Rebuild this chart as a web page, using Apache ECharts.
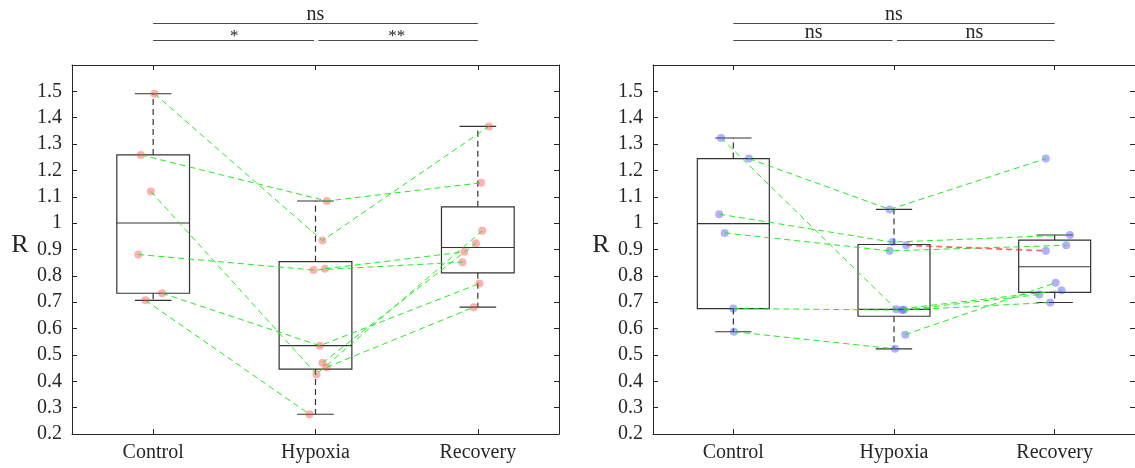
<!DOCTYPE html>
<html>
<head>
<meta charset="utf-8">
<script src="https://cdn.jsdelivr.net/npm/echarts@6/dist/echarts.min.js"></script>
<style>
  html, body { margin: 0; padding: 0; background: #fff; }
  #chart { width: 1135px; height: 468px; }
</style>
</head>
<body>
<div id="chart"></div>
<script>
// ---- data -------------------------------------------------------------
const categories = ['Control', 'Hypoxia', 'Recovery'];

// Left panel: one entry per subject, null where a phase was not measured
const leftControl  = [1.491, 1.259, 1.120, 0.881, 0.734, 0.707, null, null, null];
const leftHypoxia  = [0.934, 1.084, 0.427, 0.822, 0.535, 0.275, 0.827, 0.470, 0.453];
const leftRecovery = [1.367, 1.153, 0.971, 0.852, 0.771, null, 0.891, 0.924, 0.681];

// Right panel
const rightControl  = [1.323, 1.245, 1.034, 0.963, 0.676, 0.588, null, null, null];
const rightHypoxia  = [0.673, 1.052, 0.928, 0.895, 0.670, 0.523, 0.916, 0.577, 0.671];
const rightRecovery = [0.745, 1.245, 0.955, 0.916, 0.699, null, 0.895, 0.774, 0.729];

// Horizontal scatter of each subject's dot around its category (category units)
const leftJitterControl  = [0.008, -0.076, -0.014, -0.092, 0.055, -0.047, 0, 0, 0];
const leftJitterHypoxia  = [0.043, 0.070, 0.006, -0.012, 0.027, -0.037, 0.058, 0.043, 0.068];
const leftJitterRecovery = [0.068, 0.020, 0.027, -0.095, 0.010, 0, -0.083, -0.012, -0.025];
const rightJitterControl  = [-0.076, 0.097, -0.088, -0.054, 0.000, 0.004, 0, 0, 0];
const rightJitterHypoxia  = [0.014, -0.027, -0.010, -0.027, 0.050, 0.006, 0.076, 0.070, 0.062];
const rightJitterRecovery = [0.043, -0.055, 0.095, 0.072, -0.028, 0, -0.055, 0.006, -0.096];

// Significance labels: [Control vs Recovery, Control vs Hypoxia, Hypoxia vs Recovery]
const leftSignificance  = ['ns', '*', '**'];
const rightSignificance = ['ns', 'ns', 'ns'];

// Subject whose Hypoxia -> Recovery trace is drawn in red (right panel)
const rightRedSubject = 6;

// ---- helpers ----------------------------------------------------------
const FONT = "'Liberation Serif', 'DejaVu Serif', serif";
const AXIS_COLOR = '#262626';

// MATLAB-style percentile (linear interpolation on (i-0.5)/n)
function prctile(sorted, p) {
  const n = sorted.length;
  const pos = n * p / 100 + 0.5;
  if (pos <= 1) return sorted[0];
  if (pos >= n) return sorted[n - 1];
  const i = Math.floor(pos), f = pos - i;
  return sorted[i - 1] + f * (sorted[i] - sorted[i - 1]);
}

function boxStats(values, x) {
  const s = values.filter(v => v != null).sort((a, b) => a - b);
  const q1 = prctile(s, 25), med = prctile(s, 50), q3 = prctile(s, 75);
  const iqr = q3 - q1;
  const lo = s.find(v => v >= q1 - 1.5 * iqr);
  const hi = [...s].reverse().find(v => v <= q3 + 1.5 * iqr);
  return [x, lo, q1, med, q3, hi];
}

function renderBox(params, api) {
  const x = api.value(0);
  const lo = api.value(1), q1 = api.value(2), med = api.value(3),
        q3 = api.value(4), hi = api.value(5);
  const hw = 0.224, cw = 0.113;
  const c = (xx, yy) => api.coord([xx, yy]);
  const tl = c(x - hw, q3), br = c(x + hw, q1);
  const solid = { stroke: '#333', lineWidth: 1.2, fill: null };
  const dashed = { stroke: '#333', lineWidth: 1.2, lineDash: [6, 4], fill: null };
  const seg = (a, b, style) => ({
    type: 'line',
    shape: { x1: a[0], y1: a[1], x2: b[0], y2: b[1] },
    style: style
  });
  return {
    type: 'group',
    children: [
      seg(c(x, q3), c(x, hi), dashed),
      seg(c(x, q1), c(x, lo), dashed),
      seg(c(x - cw, hi), c(x + cw, hi), solid),
      seg(c(x - cw, lo), c(x + cw, lo), solid),
      { type: 'rect', shape: { x: tl[0], y: tl[1], width: br[0] - tl[0], height: br[1] - tl[1] },
        style: { stroke: '#333', lineWidth: 1.2, fill: 'none' } },
      seg(c(x - hw, med), c(x + hw, med), solid)
    ]
  };
}

function panelSeries(g, groups, jitters, dotColor, redSubject) {
  const series = [];
  // boxes
  series.push({
    type: 'custom',
    xAxisIndex: 2 * g, yAxisIndex: 2 * g,
    renderItem: renderBox,
    encode: { x: 0, y: [1, 2, 3, 4, 5] },
    data: groups.map((vals, i) => boxStats(vals, i + 1)),
    z: 2, silent: true
  });
  // subject dots
  const dots = [];
  groups.forEach((vals, gi) => {
    vals.forEach((v, si) => {
      if (v != null) dots.push([gi + 1 + jitters[gi][si], v]);
    });
  });
  series.push({
    type: 'scatter',
    xAxisIndex: 2 * g, yAxisIndex: 2 * g,
    data: dots,
    symbolSize: 8,
    itemStyle: { color: dotColor },
    z: 3, silent: true
  });
  // subject traces
  const nSubj = groups[0].length;
  for (let si = 0; si < nSubj; si++) {
    const pts = [];
    groups.forEach((vals, gi) => {
      if (vals[si] != null) pts.push([gi + 1 + jitters[gi][si], vals[si]]);
    });
    const segs = [];
    if (si === redSubject) {
      segs.push({ data: pts, color: 'rgba(255,40,40,0.75)', width: 1.6 });
    } else {
      segs.push({ data: pts, color: 'rgba(20,235,20,0.95)', width: 1 });
    }
    segs.forEach(s => series.push({
      type: 'line',
      xAxisIndex: 2 * g, yAxisIndex: 2 * g,
      data: s.data,
      showSymbol: false,
      symbol: 'none',
      lineStyle: { color: s.color, width: s.width, type: [6, 4] },
      z: 4, silent: true
    }));
  }
  return series;
}

function xAxes(g) {
  const base = {
    type: 'value', gridIndex: g, min: 0.5, max: 3.5,
    axisLine: { show: true, onZero: false, lineStyle: { color: AXIS_COLOR, width: 1 } },
    axisTick: { show: true, inside: true, length: 5, customValues: [1, 2, 3],
                lineStyle: { color: AXIS_COLOR } },
    splitLine: { show: false }
  };
  return [
    Object.assign({}, base, {
      position: 'bottom',
      axisLabel: { show: true, customValues: [1, 2, 3], margin: 9,
                   formatter: v => categories[Math.round(v) - 1],
                   fontFamily: FONT, fontSize: 20, color: AXIS_COLOR }
    }),
    Object.assign({}, base, { position: 'top', axisLabel: { show: false } })
  ];
}

function yAxes(g) {
  const base = {
    type: 'value', gridIndex: g, min: 0.2, max: 1.6, interval: 0.1,
    axisLine: { show: true, onZero: false, lineStyle: { color: AXIS_COLOR, width: 1 } },
    axisTick: { show: true, inside: true, length: 5, lineStyle: { color: AXIS_COLOR } },
    splitLine: { show: false }
  };
  return [
    Object.assign({}, base, {
      position: 'left',
      axisLabel: { show: true, margin: 10, fontFamily: FONT, fontSize: 20, color: AXIS_COLOR,
                   formatter: v => (Math.abs(v - 1.6) < 1e-6 ? '' : String(+v.toFixed(1))) }
    }),
    Object.assign({}, base, { position: 'right', axisLabel: { show: false } })
  ];
}

// ---- chart ------------------------------------------------------------
const chart = echarts.init(document.getElementById('chart'), null, { renderer: 'canvas' });

const option = {
  animation: false,
  backgroundColor: '#fff',
  grid: [
    { left: 72, top: 65, width: 487, height: 369 },
    { left: 653, top: 65, width: 486, height: 369 }
  ],
  xAxis: [...xAxes(0), ...xAxes(1)],
  yAxis: [...yAxes(0), ...yAxes(1)],
  series: [
    ...panelSeries(0, [leftControl, leftHypoxia, leftRecovery],
                   [leftJitterControl, leftJitterHypoxia, leftJitterRecovery],
                   'rgba(255,60,60,0.5)', -1),
    ...panelSeries(1, [rightControl, rightHypoxia, rightRecovery],
                   [rightJitterControl, rightJitterHypoxia, rightJitterRecovery],
                   'rgba(60,60,255,0.5)', rightRedSubject)
  ]
};
chart.setOption(option);

// Significance brackets above each panel and the upright "R" axis titles
function annotations(g, labels) {
  const xa = 2 * g;
  const px = v => chart.convertToPixel({ xAxisIndex: xa }, v);
  const xC = px(1), xH = px(2), xR = px(3);
  const line = (x1, x2, y) => ({
    type: 'line', shape: { x1: x1, y1: y, x2: x2, y2: y },
    style: { stroke: '#4a4a4a', lineWidth: 1 }
  });
  const text = (s, x, y) => ({
    type: 'text', x: x, y: y,
    style: { text: s, font: (s.indexOf('*') >= 0 ? '17px ' : '20px ') + FONT,
             fill: '#262626', align: 'center', verticalAlign: 'middle' }
  });
  const starY = s => (s.indexOf('*') >= 0 ? 37 : 33);
  return [
    line(xC, xR, 23.5),
    text(labels[0], (xC + xR) / 2, 15),
    line(xC, xH - 1.5, 40.5),
    text(labels[1], (xC + xH) / 2, starY(labels[1])),
    line(xH + 3, xR, 40.5),
    text(labels[2], (xH + xR) / 2, starY(labels[2]))
  ];
}

const yTitle = (x) => ({
  type: 'text', x: x, y: 245,
  style: { text: 'R', font: '26px ' + FONT, fill: '#262626', align: 'center', verticalAlign: 'middle' }
});

chart.setOption({
  graphic: [
    ...annotations(0, leftSignificance),
    ...annotations(1, rightSignificance),
    yTitle(20),
    yTitle(601)
  ]
});
</script>
</body>
</html>
